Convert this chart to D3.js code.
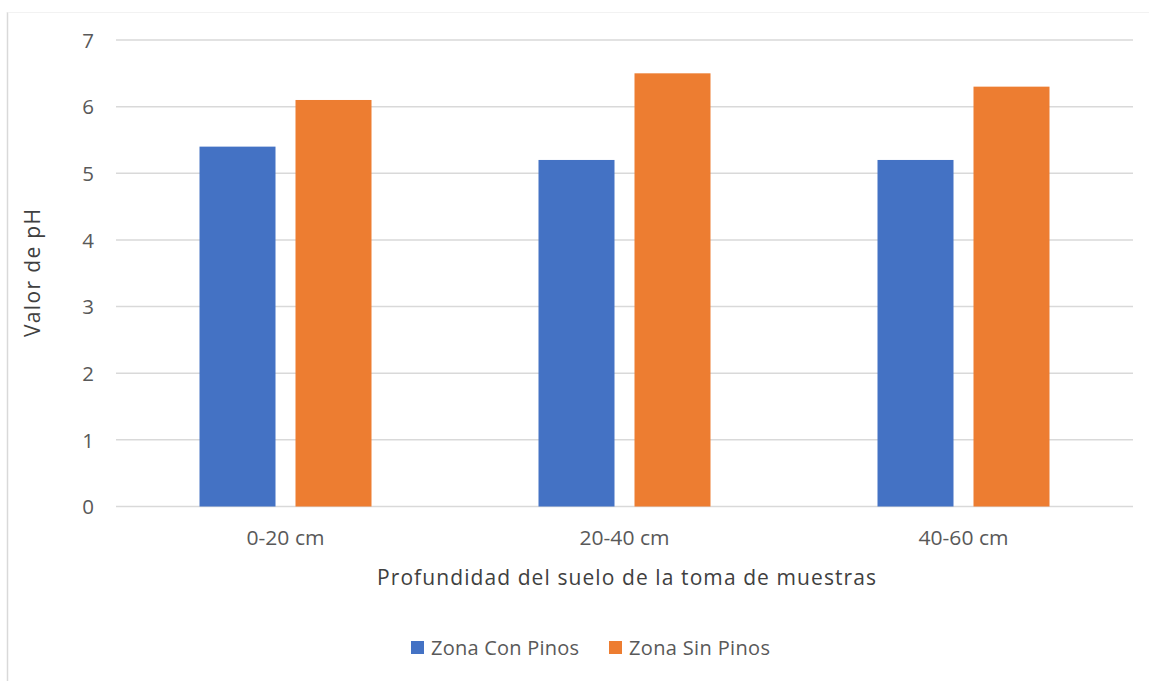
<!DOCTYPE html>
<html>
<head>
<meta charset="utf-8">
<script src="https://cdn.jsdelivr.net/npm/d3@7"></script>
<style>
  html, body { margin: 0; padding: 0; background: #ffffff; }
  svg { display: block; font-family: "Open Sans", "Noto Sans", sans-serif; }
</style>
</head>
<body>
<svg id="chart" width="1149" height="681"></svg>
<script>
// Soil pH by sampling depth, with and without pines
const categories = ["0-20 cm", "20-40 cm", "40-60 cm"];
const seriesNames = ["Zona Con Pinos", "Zona Sin Pinos"];
const conPinos = [5.4, 5.2, 5.2];
const sinPinos = [6.1, 6.5, 6.3];
const yTicks = [0, 1, 2, 3, 4, 5, 6, 7];
const colors = ["#4472c4", "#ed7d31"];

const svg = d3.select("#chart");
const plot = { left: 116, right: 1133, top: 40, bottom: 506.5 };

// chart-area frame
svg.append("line").attr("x1", 7.5).attr("x2", 7.5).attr("y1", 12).attr("y2", 681)
  .attr("stroke", "#d9d9d9").attr("stroke-width", 1.5);
svg.append("line").attr("x1", 7.5).attr("x2", 1149).attr("y1", 12.5).attr("y2", 12.5)
  .attr("stroke", "#f2f2f2").attr("stroke-width", 1);

const x = d3.scaleBand().domain(categories).range([plot.left, plot.right]).paddingInner(0).paddingOuter(0);
const y = d3.scaleLinear().domain([0, 7]).range([plot.bottom, plot.top]);

// two bars per category, separated by a small gap
const barW = 76, barGap = 20;
const inner = d3.scaleBand().domain(seriesNames)
  .range([-(barW + barGap / 2), barW + barGap / 2])
  .paddingInner(barGap / (barW + barGap)).paddingOuter(0);

// gridlines
svg.append("g").selectAll("line").data(yTicks).join("line")
  .attr("x1", plot.left).attr("x2", plot.right)
  .attr("y1", d => y(d)).attr("y2", d => y(d))
  .attr("stroke", "#d9d9d9").attr("stroke-width", 1.5);

// y axis labels
const yAxis = d3.axisLeft(y).tickValues(yTicks).tickSize(0).tickPadding(0).tickFormat(d3.format("d"));
const yg = svg.append("g").attr("transform", "translate(94,0)").call(yAxis);
yg.select(".domain").remove();
yg.selectAll("text").attr("fill", "#595959").attr("font-size", 20.5)
  .attr("font-family", "'Open Sans', sans-serif").attr("dy", "0.35em");

// bars
const rows = categories.map((c, i) => ({ cat: c, vals: [conPinos[i], sinPinos[i]] }));
const groups = svg.append("g").selectAll("g").data(rows).join("g")
  .attr("transform", d => `translate(${x(d.cat) + x.bandwidth() / 2},0)`);
groups.selectAll("rect").data(d => d.vals.map((v, k) => ({ v, k }))).join("rect")
  .attr("x", d => inner(seriesNames[d.k]))
  .attr("width", inner.bandwidth())
  .attr("y", d => y(d.v))
  .attr("height", d => y(0) - y(d.v))
  .attr("fill", d => colors[d.k]);

// x axis labels
const xAxis = d3.axisBottom(x).tickSize(0).tickPadding(0);
const xg = svg.append("g").attr("transform", `translate(0,${plot.bottom})`).call(xAxis);
xg.select(".domain").remove();
xg.selectAll("text").attr("fill", "#595959").attr("font-size", 20)
  .attr("font-family", "'Open Sans', sans-serif").attr("y", 38).attr("dy", 0)
  .attr("textLength", 78).attr("lengthAdjust", "spacingAndGlyphs");
xg.selectAll("text").filter(d => d !== "0-20 cm").attr("textLength", 90);

// axis titles
svg.append("text").attr("x", 626.5).attr("y", 585).attr("text-anchor", "middle")
  .attr("fill", "#404040").attr("font-size", 21)
  .attr("textLength", 499).attr("lengthAdjust", "spacing")
  .text("Profundidad del suelo de la toma de muestras");
svg.append("text").attr("transform", "translate(40,273) rotate(-90)").attr("text-anchor", "middle")
  .attr("fill", "#404040").attr("font-size", 21)
  .attr("textLength", 128).attr("lengthAdjust", "spacing")
  .text("Valor de pH");

// legend
const legendItems = [
  { name: seriesNames[0], color: colors[0], sx: 411, tx: 431, tw: 148 },
  { name: seriesNames[1], color: colors[1], sx: 609, tx: 629, tw: 141 }
];
const lg = svg.append("g");
lg.selectAll("rect").data(legendItems).join("rect")
  .attr("x", d => d.sx).attr("y", 641).attr("width", 13).attr("height", 13)
  .attr("fill", d => d.color);
lg.selectAll("text").data(legendItems).join("text")
  .attr("x", d => d.tx).attr("y", 655).attr("fill", "#595959").attr("font-size", 20)
  .attr("textLength", d => d.tw).attr("lengthAdjust", "spacing")
  .text(d => d.name);
</script>
</body>
</html>
